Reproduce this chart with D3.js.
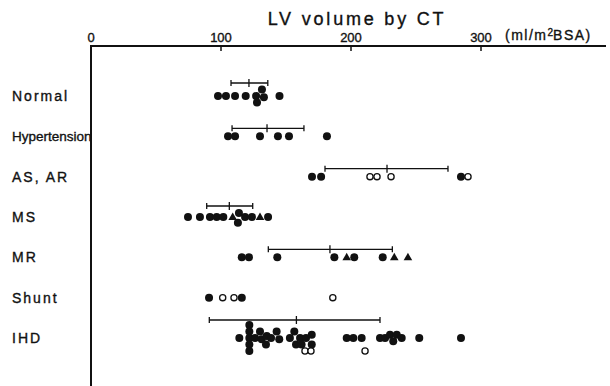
<!DOCTYPE html>
<html lang="en">
<head>
    <meta charset="UTF-8">
    <title>LV volume by CT</title>
    <style>
        body { margin: 0; background: #ffffff; }
        svg { display: block; background: #ffffff; }
        text {
            font-family: 'Liberation Sans', Arial, sans-serif;
            fill: #111;
            stroke: #111;
            stroke-width: 0.35px;
        }
    </style>
</head>
<body>
    <svg width="610" height="386"></svg>
    <script src="https://d3js.org/d3.v7.min.js"></script>
    <script>
        // Groups, top to bottom
        var categories = ["Normal", "Hypertension", "AS, AR", "MS", "MR", "Shunt", "IHD"];

        // Axis ticks
        var tickValues = [0, 100, 200, 300];

        // Mean and range bar for each group (null = no bar)
        var meanValues = [121.5, 135.4, 227.7, 106.4, 183.8, null, 158];
        var barLow     = [107.7, 108.5, 180, 89, 136.4, null, 91];
        var barHigh    = [136, 163.8, 274.6, 124.4, 231.8, null, 222.3];

        // Points per group: [value, kind, stack level]
        // kind: f = filled circle, o = open circle, t = triangle
        var normalPts = [[97.7,"f",0],[103.8,"f",0],[110.8,"f",0],[119,"f",0],[127,"f",0],
            [131.5,"f",-1],[133,"f",0.2],[127.7,"f",1],[145,"f",0]];
        var hypertensionPts = [[105.4,"f",0],[110.8,"f",0],[130,"f",0],[143.8,"f",0],[152.3,"f",0],[181.5,"f",0]];
        var asarPts = [[170,"f",0],[177,"f",0],[214.6,"o",0],[220,"o",0],[230.8,"o",0],[284.6,"f",0],[290,"o",0]];
        var msPts = [[74.6,"f",0],[83.8,"f",0],[91.5,"f",0],[96.7,"f",0],[101.8,"f",0],[109,"t",0],
            [113.8,"f",-0.6],[113,"f",0.9],[118.5,"f",0],[123.8,"f",0],[130,"t",0],[136.2,"f",0]];
        var mrPts = [[116,"f",0],[121.5,"f",0],[143.3,"f",0],[187.2,"f",0],[196.7,"t",0],[202.5,"f",0],
            [224.4,"f",0],[233.3,"t",0],[243.8,"t",0]];
        var shuntPts = [[90.8,"f",0],[101.3,"o",0],[110,"o",0],[116,"f",0],[186,"o",0]];
        var ihdPts = [[114.1,"f",0],[121.8,"f",-2],[121.8,"f",-1],[121.8,"f",0],[121.8,"f",1],[121.8,"f",2],
            [126.2,"f",0],[130,"f",-1],[131.3,"f",0.2],[134.6,"f",1],[135.2,"f",-0.3],[138.5,"f",0],
            [142.8,"f",-1],[144.8,"f",0.2],[153,"f",0],[156.4,"f",-1],[157.7,"f",1],[160.8,"f",0],
            [162,"f",1],[165.4,"f",0],[169.8,"f",-0.5],[169.8,"f",1],[164.6,"o",2],[169.2,"o",2],
            [196.7,"f",0],[201.8,"f",0],[208.2,"f",0],[210.8,"o",2],
            [222.3,"f",0],[226.2,"f",0],[230,"f",-0.5],[232.5,"f",0.5],[235.2,"f",-0.5],[239,"f",0],
            [252.5,"f",0],[284.6,"f",0]];

        var groupPoints = [normalPts, hypertensionPts, asarPts, msPts, mrPts, shuntPts, ihdPts];

        var svg = d3.select("svg");

        // Scales
        var x = d3.scaleLinear().domain([0, 300]).range([91, 481]);
        var y = d3.scalePoint().domain(categories).range([96, 338]);
        var levelStep = 6.5;
        var axisY = 46;

        // Title
        svg.append("text")
            .attr("x", 357)
            .attr("y", 25)
            .attr("text-anchor", "middle")
            .attr("font-size", "18px")
            .attr("letter-spacing", "2.8px")
            .text("LV volume by CT");

        // Top axis line + ticks
        svg.append("line")
            .attr("x1", x(0) - 1).attr("x2", 606)
            .attr("y1", axisY).attr("y2", axisY)
            .attr("stroke", "#111").attr("stroke-width", 2);

        svg.append("line")
            .attr("x1", x(0)).attr("x2", x(0))
            .attr("y1", axisY).attr("y2", 386)
            .attr("stroke", "#111").attr("stroke-width", 2);

        svg.selectAll(".tick")
            .data(tickValues.filter(function(d) { return d > 0; }))
            .enter().append("line")
            .attr("class", "tick")
            .attr("x1", function(d) { return x(d); })
            .attr("x2", function(d) { return x(d); })
            .attr("y1", axisY).attr("y2", axisY + 5)
            .attr("stroke", "#111").attr("stroke-width", 1.5);

        svg.selectAll(".tick-label")
            .data(tickValues)
            .enter().append("text")
            .attr("class", "tick-label")
            .attr("x", function(d) { return x(d); })
            .attr("y", 42)
            .attr("text-anchor", "middle")
            .attr("font-size", "13px")
            .text(function(d) { return d; });

        // Unit label
        var unit = svg.append("text")
            .attr("x", 505)
            .attr("y", 40)
            .attr("font-size", "14px")
            .attr("letter-spacing", "1.5px");
        unit.append("tspan").text("(ml/m");
        unit.append("tspan").attr("font-size", "10px").attr("dy", -4).attr("letter-spacing", "0px").text("2");
        unit.append("tspan").attr("dy", 4).text("BSA)");

        // Row labels
        svg.selectAll(".row-label")
            .data(categories)
            .enter().append("text")
            .attr("class", "row-label")
            .attr("x", 12)
            .attr("y", function(d) { return y(d) + 5; })
            .attr("font-size", function(d) { return d === "Hypertension" ? "13.5px" : "14px"; })
            .attr("letter-spacing", function(d) { return d === "Hypertension" ? "0px" : "2px"; })
            .text(function(d) { return d; });

        // Mean / range bars
        categories.forEach(function(cat, i) {
            if (meanValues[i] === null) return;
            var upper = d3.min(groupPoints[i], function(p) { return p[2]; });
            var by = y(cat) - 8 + Math.min(upper, 0) * 5;
            var g = svg.append("g").attr("stroke", "#111").attr("stroke-width", 1.3);
            g.append("line")
                .attr("x1", x(barLow[i])).attr("x2", x(barHigh[i]))
                .attr("y1", by).attr("y2", by);
            [barLow[i], barHigh[i]].forEach(function(v) {
                g.append("line")
                    .attr("x1", x(v)).attr("x2", x(v))
                    .attr("y1", by - 3).attr("y2", by + 3);
            });
            g.append("line")
                .attr("x1", x(meanValues[i])).attr("x2", x(meanValues[i]))
                .attr("y1", by - 4).attr("y2", by + 4);
        });

        // Points
        var tri = d3.symbol().type(d3.symbolTriangle).size(32);
        categories.forEach(function(cat, i) {
            var g = svg.append("g");
            groupPoints[i].forEach(function(p) {
                var px = x(p[0]), py = y(cat) + p[2] * levelStep;
                if (p[1] === "t") {
                    g.append("path")
                        .attr("d", tri)
                        .attr("transform", "translate(" + px + "," + (py + 0.5) + ")")
                        .attr("fill", "#111");
                } else if (p[1] === "o") {
                    g.append("circle")
                        .attr("cx", px).attr("cy", py).attr("r", 3.1)
                        .attr("fill", "#fff").attr("stroke", "#111").attr("stroke-width", 1.3);
                } else {
                    g.append("circle")
                        .attr("cx", px).attr("cy", py).attr("r", 4)
                        .attr("fill", "#111");
                }
            });
        });
    </script>
</body>
</html>
